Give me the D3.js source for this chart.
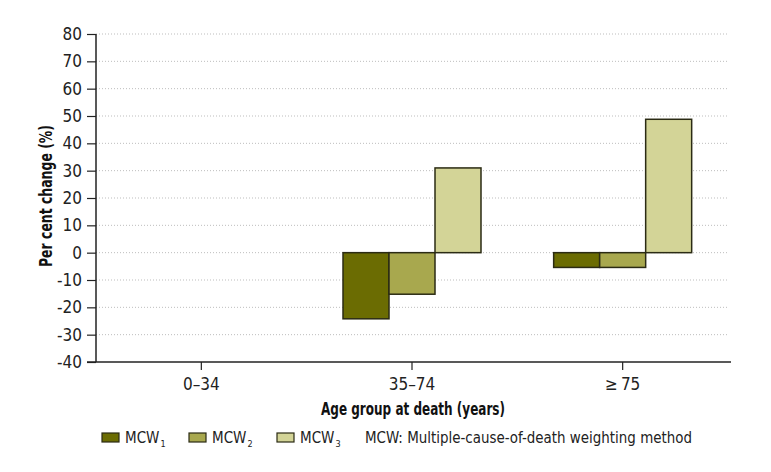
<!DOCTYPE html>
<html><head><meta charset="utf-8">
<script src="https://cdn.jsdelivr.net/npm/d3@7"></script>
<style>
body{margin:0;background:#fff;}
text{font-family:"DejaVu Sans Condensed","Liberation Sans",sans-serif;}
</style></head>
<body><svg id="chart" width="771" height="472"></svg>
<script>
const categories = ["0\u201334", "35\u201374", "\u2265\u200975"];
const seriesNames = ["MCW1", "MCW2", "MCW3"];
const mcw1 = [null, -24.2, -5.4];
const mcw2 = [null, -15.2, -5.4];
const mcw3 = [null, 31.0, 48.8];
const yTicks = [-40,-30,-20,-10,0,10,20,30,40,50,60,70,80];
const colors = ["#6b6c02", "#a8a84e", "#d3d497"];

const svg = d3.select("#chart");
const mLeft = 96, mRight = 728, mTop = 34, mBottom = 362;
const x = d3.scaleBand().domain(categories).range([mLeft, mRight]).padding(0);
const sub = d3.scaleBand().domain(seriesNames).range([0, 138]);
const y = d3.scaleLinear().domain([-40, 80]).range([mBottom, mTop]);

// grid
svg.append("g").selectAll("line").data(yTicks.filter(d => d > -40)).join("line")
  .attr("x1", mLeft).attr("x2", mRight).attr("y1", d => y(d)).attr("y2", d => y(d))
  .attr("stroke", "#bdbdbd").attr("stroke-width", 1).attr("stroke-dasharray", "1,2");

const series = [mcw1, mcw2, mcw3];
series.forEach((vals, si) => {
  svg.append("g").selectAll("rect").data(vals.map((v, i) => ({v, c: categories[i]})).filter(d => d.v !== null)).join("rect")
    .attr("x", d => x(d.c) + (x.bandwidth() - 138) / 2 + sub(seriesNames[si]))
    .attr("width", sub.bandwidth())
    .attr("y", d => y(Math.max(0, d.v)))
    .attr("height", d => Math.abs(y(d.v) - y(0)))
    .attr("fill", colors[si]).attr("stroke", "#2b2b14").attr("stroke-width", 1.5);
});

// y axis
const ya = svg.append("g").attr("transform", `translate(${mLeft},0)`)
  .call(d3.axisLeft(y).tickValues(yTicks).tickSize(9).tickPadding(5).tickFormat(d => d < 0 ? "-" + Math.abs(d) : d));
ya.select(".domain").attr("stroke", "#222").attr("stroke-width", 1.5).attr("d", `M0,${mTop}V${mBottom}`);
ya.selectAll(".tick line").attr("stroke", "#222").attr("stroke-width", 1.2);
ya.selectAll(".tick text").attr("font-size", 17).attr("fill", "#222")
  .style("font-family", '"DejaVu Sans Condensed",sans-serif');

// x axis
const xa = svg.append("g").attr("transform", `translate(0,${mBottom})`)
  .call(d3.axisBottom(x).tickSize(8).tickPadding(8));
xa.select(".domain").attr("stroke", "#222").attr("stroke-width", 1.5).attr("d", `M${mLeft - 9},0H${mRight + 3}`);
xa.selectAll(".tick line").attr("stroke", "#222").attr("stroke-width", 1.2);
xa.selectAll(".tick text").attr("font-size", 17).attr("fill", "#222")
  .style("font-family", '"DejaVu Sans Condensed",sans-serif');

// axis titles
svg.append("text").attr("transform", "translate(52,196) rotate(-90)").attr("text-anchor", "middle")
  .attr("font-size", 18).attr("font-weight", "bold").attr("fill", "#111")
  .attr("textLength", 142).attr("lengthAdjust", "spacingAndGlyphs").text("Per cent change (%)");
svg.append("text").attr("x", 413).attr("y", 415).attr("text-anchor", "middle")
  .attr("font-size", 18).attr("font-weight", "bold").attr("fill", "#111")
  .attr("textLength", 184).attr("lengthAdjust", "spacingAndGlyphs").text("Age group at death (years)");

// legend
const legX = [102, 189, 277];
const lg = svg.append("g");
seriesNames.forEach((s, i) => {
  lg.append("rect").attr("x", legX[i]).attr("y", 433).attr("width", 17).attr("height", 9)
    .attr("fill", colors[i]).attr("stroke", "#2b2b14").attr("stroke-width", 1.2);
  const t = lg.append("text").attr("x", legX[i] + 23).attr("y", 443).attr("font-size", 15).attr("fill", "#222");
  t.append("tspan").text("MCW");
  t.append("tspan").attr("font-size", 9).attr("dx", 1).attr("dy", 4).text(String(i + 1));
});
lg.append("text").attr("x", 365).attr("y", 443).attr("font-size", 15).attr("fill", "#222")
  .attr("textLength", 327).attr("lengthAdjust", "spacingAndGlyphs")
  .text("MCW: Multiple-cause-of-death weighting method");
</script></body></html>
